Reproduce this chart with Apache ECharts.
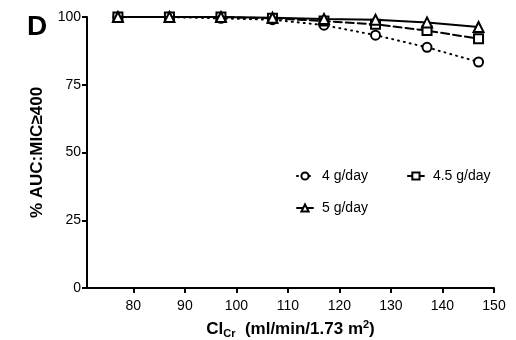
<!DOCTYPE html>
<html><head><meta charset="utf-8">
<script src="https://cdn.jsdelivr.net/npm/echarts@6/dist/echarts.min.js"></script>
<style>html,body{margin:0;padding:0;background:#fff}#c{width:516px;height:340px}</style>
</head><body><div id="c"></div>
<script>
const clcr = [77, 87, 97, 107, 117, 127, 137, 147];
const s4 = [100, 100, 99.5, 99, 97, 93.3, 88.8, 83.4];
const s45 = [100, 100, 100, 99.5, 98.5, 97.3, 95, 92];
const s5 = [100, 100, 100, 99.7, 99.3, 99, 98, 96.3];
const xTicks = [80, 90, 100, 110, 120, 130, 140, 150];
const yTicks = [0, 25, 50, 75, 100];
const names = ['4 g/day', '4.5 g/day', '5 g/day'];

const font = 'Liberation Sans, Arial, sans-serif';
const chart = echarts.init(document.getElementById('c'));
function pts(v){ return clcr.map((x,i)=>[x, v[i]]); }
function ser(name, data, symbol, ltype, z){
  return {name, type:'line', data: pts(data), symbol, symbolSize: symbol==='triangle'?10:9,
    showSymbol:true, z,
    itemStyle:{color:'#fff', borderColor:'#000', borderWidth:2},
    lineStyle:{color:'#000', width:2, type:ltype, cap:'round'},
    emphasis:{disabled:true}, animation:false};
}
const legendBase = {orient:'horizontal', itemWidth:16, itemHeight:9, itemGap:39,
  textStyle:{fontFamily:font, fontSize:14, color:'#000', padding:[0,0,0,4]}, selectedMode:false};
chart.setOption({
  animation:false,
  title:{text:'D', left:22, top:8, textStyle:{fontFamily:font, fontSize:28, fontWeight:'bold', color:'#000'}},
  grid:{left:87, right:22, top:17, bottom:52, containLabel:false, outerBoundsMode:'none'},
  legend:[
    Object.assign({}, legendBase, {data:names.slice(0,2), left:291, top:164}),
    Object.assign({}, legendBase, {data:names.slice(2), left:291, top:196})
  ],
  xAxis:{type:'value', min:71, max:150,
    name:'{a|Cl}{s|Cr}{a|  (ml/min/1.73 m}{p|2}{a|)}', nameLocation:'middle', nameGap:31,
    nameTextStyle:{rich:{
      a:{fontFamily:font, fontSize:17, fontWeight:'bold', color:'#000'},
      s:{fontFamily:font, fontSize:11, fontWeight:'bold', color:'#000', padding:[9,0,0,0]},
      p:{fontFamily:font, fontSize:11, fontWeight:'bold', color:'#000', padding:[0,0,9,0]}
    }},
    axisLine:{lineStyle:{color:'#000', width:2}},
    axisTick:{customValues:xTicks, length:5, lineStyle:{color:'#000', width:2}},
    axisLabel:{customValues:xTicks, fontFamily:font, fontSize:14, color:'#000', margin:11},
    splitLine:{show:false}},
  yAxis:{type:'value', min:0, max:100, interval:25,
    name:'% AUC:MIC≥400', nameLocation:'middle', nameGap:41, nameRotate:90,
    nameTextStyle:{fontFamily:font, fontSize:17, fontWeight:'bold', color:'#000'},
    axisLine:{show:true, lineStyle:{color:'#000', width:2}},
    axisTick:{show:true, length:5, lineStyle:{color:'#000', width:2}},
    axisLabel:{fontFamily:font, fontSize:14, color:'#000', margin:6,
      formatter:v=> yTicks.includes(v)? String(v):''},
    splitLine:{show:false}},
  series:[
    ser(names[0], s4, 'circle', [1,5], 3),
    ser(names[1], s45, 'rect', [8,4], 4),
    ser(names[2], s5, 'triangle', 'solid', 5)
  ]
});
</script></body></html>
